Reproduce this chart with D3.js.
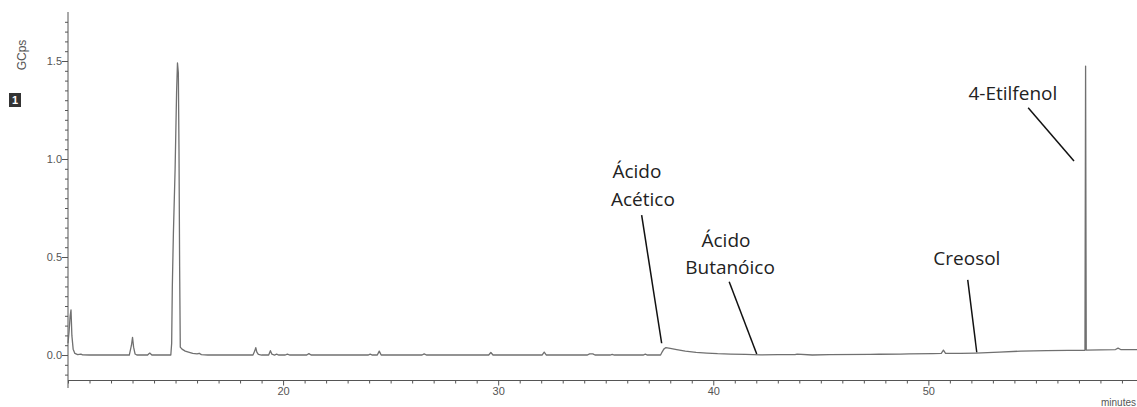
<!DOCTYPE html>
<html>
<head>
<meta charset="utf-8">
<script src="https://cdn.jsdelivr.net/npm/d3@7/dist/d3.min.js"></script>
<style>
  html, body { margin: 0; padding: 0; background: #fff; }
  svg { display: block; }
</style>
</head>
<body>
<svg id="chart" width="1137" height="407"></svg>
<script>
// Chromatogram trace: retention time (minutes) and detector response (GCps)
const traceTimes = [
  10.00, 10.05, 10.10, 10.14, 10.18, 10.24, 10.32, 10.45, 10.60, 10.68, 11.00,
  12.85, 12.95, 13.00, 13.05, 13.12, 13.20,
  13.70, 13.80, 13.90,
  14.78, 14.82, 14.85, 14.90, 14.98, 15.05, 15.09, 15.13, 15.16, 15.19, 15.22,
  15.30, 15.45, 15.60, 15.80, 16.00, 16.10, 16.20, 16.50,
  18.60, 18.68, 18.73, 18.78, 18.85, 19.00,
  19.33, 19.41, 19.48, 19.60, 19.70, 19.80,
  20.10, 20.20, 20.30, 21.10, 21.20, 21.30,
  23.95, 24.05, 24.15, 24.38, 24.47, 24.56,
  26.46, 26.56, 26.66, 29.56, 29.66, 29.76,
  32.04, 32.14, 32.24, 34.15, 34.25, 34.40, 34.50,
  35.20, 35.30, 35.40, 36.74, 36.84, 36.94,
  37.55, 37.62, 37.70, 37.80, 38.00, 38.30, 38.70, 39.20, 39.70, 40.20,
  40.80, 41.50, 42.20, 43.00, 43.80, 43.90, 44.60, 45.40, 47.30, 47.70,
  48.70, 49.10, 50.20, 50.60, 50.70, 50.80, 51.50, 52.20, 53.30, 54.30,
  55.50, 56.50, 57.28, 57.31, 57.34, 58.00, 58.70, 58.82, 58.94, 59.70
];
const traceValues = [
  0.06, 0.12, 0.20, 0.23, 0.10, 0.03, 0.008, 0.002, 0.005, 0.001, 0.000,
  0.000, 0.050, 0.090, 0.040, 0.005, 0.000,
  0.000, 0.010, 0.000,
  0.000, 0.060, 0.350, 0.620, 0.950, 1.350, 1.490, 1.440, 1.050, 0.450, 0.040,
  0.030, 0.020, 0.015, 0.008, 0.006, 0.009, 0.002, 0.000,
  0.000, 0.020, 0.038, 0.015, 0.003, 0.000,
  0.000, 0.022, 0.004, 0.000, 0.004, 0.000,
  0.000, 0.005, 0.000, 0.000, 0.007, 0.000,
  0.000, 0.004, 0.000, 0.000, 0.020, 0.000,
  0.000, 0.006, 0.000, 0.000, 0.013, 0.000,
  0.000, 0.015, 0.000, 0.000, 0.006, 0.006, 0.000,
  0.000, 0.003, 0.000, 0.000, 0.004, 0.000,
  0.000, 0.015, 0.030, 0.038, 0.034, 0.028, 0.020, 0.013, 0.010, 0.007,
  0.005, 0.003, 0.001, 0.002, 0.002, 0.005, 0.000, 0.002, 0.003, 0.004,
  0.005, 0.006, 0.007, 0.008, 0.025, 0.008, 0.008, 0.010, 0.015, 0.020,
  0.022, 0.024, 0.024, 1.474, 0.025, 0.026, 0.028, 0.035, 0.028, 0.028
];

// Axis ticks
const xTickLabels = [20, 30, 40, 50];
const yTickLabels = [0.0, 0.5, 1.0, 1.5];

// Peak annotations: text lines with anchor points, and leader lines (data units)
const annotationNames = ["Ácido Acético", "Ácido Butanóico", "Creosol", "4-Etilfenol"];
const annotationLines = [["Ácido", "Acético"], ["Ácido", "Butanóico"], ["Creosol"], ["4-Etilfenol"]];
const annotationTextAnchors = [
  [[36.45, 0.939], [36.73, 0.796]],
  [[40.59, 0.587], [40.78, 0.449]],
  [[51.79, 0.495]],
  [[53.93, 1.338]]
];
const leaderStarts = [[36.67, 0.714], [40.74, 0.374], [51.83, 0.383], [54.64, 1.262]];
const leaderEnds   = [[37.60, 0.060], [42.02, 0.005], [52.25, 0.014], [56.77, 0.990]];

const svg = d3.select("#chart");
const W = 1137, H = 407;
svg.append("rect").attr("width", W).attr("height", H).attr("fill", "#fff");

const x = d3.scaleLinear().domain([10, 59.7]).range([68, 1137]);
const y = d3.scaleLinear().domain([-0.13, 1.75]).range([380.5, 12]);

const axisColor = "#555";
const axisFont = "'Liberation Sans', Arial, sans-serif";

// Y axis: minor ticks every 0.05, labels every 0.5
const yMinor = d3.range(-2, 35).map(i => i * 0.05);
const yAxis = d3.axisLeft(y)
  .tickValues(yMinor)
  .tickSize(3)
  .tickFormat(d => {
    const m = yTickLabels.find(v => Math.abs(v - d) < 1e-6);
    return m === undefined ? "" : d3.format(".1f")(m);
  });
const yG = svg.append("g").attr("transform", `translate(${x(10)},0)`).call(yAxis);
yG.select(".domain").remove();
yG.selectAll(".tick line").attr("stroke", axisColor);
yG.selectAll(".tick")
  .filter(d => yTickLabels.some(v => Math.abs(v - d) < 1e-6))
  .select("line").attr("x2", -6);
yG.selectAll(".tick text")
  .attr("x", -6)
  .attr("fill", "#555")
  .style("font-family", axisFont)
  .style("font-size", "11px");
svg.append("line")
  .attr("x1", x(10)).attr("x2", x(10))
  .attr("y1", 12).attr("y2", 388)
  .attr("stroke", axisColor).attr("stroke-width", 1);

// X axis: minor ticks every minute, labels every 10
const xMinor = d3.range(10, 60, 1);
const xAxis = d3.axisBottom(x)
  .tickValues(xMinor)
  .tickSize(3)
  .tickFormat(d => xTickLabels.includes(d) ? d : "");
const xG = svg.append("g").attr("transform", `translate(0,${y(-0.13)})`).call(xAxis);
xG.select(".domain").remove();
xG.selectAll(".tick line").attr("stroke", axisColor);
xG.selectAll(".tick").filter(d => xTickLabels.includes(d)).select("line").attr("y2", 5);
xG.selectAll(".tick text")
  .attr("y", 7)
  .attr("fill", "#555")
  .style("font-family", axisFont)
  .style("font-size", "11px");
svg.append("line")
  .attr("x1", x(10)).attr("x2", W)
  .attr("y1", y(-0.13)).attr("y2", y(-0.13))
  .attr("stroke", axisColor).attr("stroke-width", 1);

// Axis titles
svg.append("text")
  .attr("transform", "translate(26,55) rotate(-90)")
  .attr("text-anchor", "middle")
  .attr("fill", "#555")
  .style("font-family", axisFont)
  .style("font-size", "12px")
  .text("GCps");
svg.append("text")
  .attr("x", 1101).attr("y", 406)
  .attr("fill", "#555")
  .style("font-family", axisFont)
  .style("font-size", "10px")
  .text("minutes");

// Trace number badge
svg.append("rect").attr("x", 9).attr("y", 93).attr("width", 12).attr("height", 14).attr("fill", "#333");
svg.append("text")
  .attr("x", 15).attr("y", 104)
  .attr("text-anchor", "middle")
  .attr("fill", "#fff")
  .style("font-family", axisFont)
  .style("font-size", "11px")
  .style("font-weight", "bold")
  .text("1");

// Chromatogram trace
const trace = traceTimes.map((t, i) => [t, traceValues[i]]);
svg.append("path")
  .datum(trace)
  .attr("fill", "none")
  .attr("stroke", "#707070")
  .attr("stroke-width", 1.3)
  .attr("stroke-linejoin", "round")
  .attr("d", d3.line().x(d => x(d[0])).y(d => y(d[1])));

// Peak annotations
const ann = svg.append("g").attr("class", "annotations");
annotationNames.forEach((name, i) => {
  const g = ann.append("g").attr("aria-label", name);
  g.append("line")
    .attr("x1", x(leaderStarts[i][0])).attr("y1", y(leaderStarts[i][1]))
    .attr("x2", x(leaderEnds[i][0])).attr("y2", y(leaderEnds[i][1]))
    .attr("stroke", "#111").attr("stroke-width", 1.5);
  annotationLines[i].forEach((txt, j) => {
    g.append("text")
      .attr("x", x(annotationTextAnchors[i][j][0]))
      .attr("y", y(annotationTextAnchors[i][j][1]))
      .attr("text-anchor", "middle")
      .attr("dominant-baseline", "central")
      .attr("fill", "#222")
      .style("font-family", "'Open Sans', Lato, sans-serif")
      .style("font-size", "19px")
      .text(txt);
  });
});
</script>
</body>
</html>
